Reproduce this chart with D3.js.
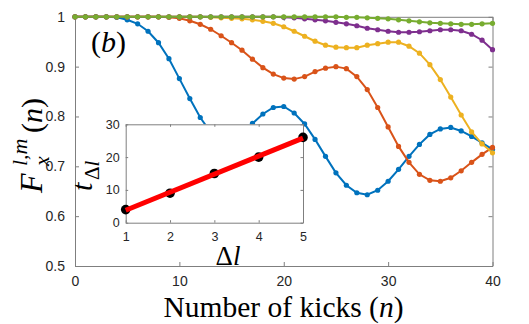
<!DOCTYPE html>
<html>
<head>
<meta charset="utf-8">
<script src="https://cdn.jsdelivr.net/npm/d3@7"></script>
<style>
  body { margin: 0; background: #fff; }
  svg { display: block; }
</style>
</head>
<body>
<div id="chart"></div>
<script>
// kicks n = 0..40
const kicks = d3.range(0, 41);

// fidelity curves
const seriesBlue = [1, 1, 1, 1, 0.999, 0.994, 0.986, 0.971, 0.948, 0.916, 0.876, 0.836, 0.798, 0.768, 0.748, 0.738, 0.758, 0.786, 0.805, 0.818, 0.82,
  0.807, 0.785, 0.754, 0.72, 0.687, 0.662, 0.647, 0.643, 0.652, 0.67, 0.694, 0.72, 0.744, 0.764, 0.775, 0.778, 0.771, 0.76, 0.747, 0.734];
const seriesOrange = [1, 1, 1, 1, 1, 1, 1, 1, 1, 0.999, 0.997, 0.992, 0.985, 0.975, 0.962, 0.948, 0.933, 0.915, 0.898, 0.885, 0.877,
  0.875, 0.88, 0.89, 0.897, 0.9, 0.896, 0.88, 0.854, 0.818, 0.779, 0.74, 0.708, 0.684, 0.672, 0.67, 0.677, 0.691, 0.708, 0.724, 0.738];
const seriesYellow = [1, 1, 1, 1, 1, 1, 1, 1, 1, 1, 1, 1, 1, 0.999, 0.998, 0.997, 0.996, 0.994, 0.991, 0.987, 0.98,
  0.971, 0.961, 0.951, 0.943, 0.939, 0.938, 0.938, 0.943, 0.946, 0.949, 0.949, 0.941, 0.927, 0.904, 0.874, 0.839, 0.803, 0.769, 0.745, 0.727];
const seriesPurple = [1, 1, 1, 1, 1, 1, 1, 1, 1, 1, 1, 1, 1, 1, 1, 1, 1, 1, 1, 1, 0.999,
  0.998, 0.996, 0.994, 0.992, 0.989, 0.986, 0.982, 0.977, 0.974, 0.971, 0.969, 0.969, 0.97, 0.972, 0.974, 0.974, 0.972, 0.965, 0.953, 0.934];
const seriesGreen = [1, 1, 1, 1, 1, 1, 1, 1, 1, 1, 1, 1, 1, 1, 1, 1, 1, 1, 1, 1, 1,
  1, 1, 1, 1, 1, 0.999, 0.999, 0.998, 0.997, 0.996, 0.994, 0.992, 0.99, 0.988, 0.987, 0.986, 0.985, 0.985, 0.986, 0.987];
const seriesColors = ['#0072BD', '#D95319', '#EDB120', '#7E2F8E', '#77AC30'];

const xTicks = [0, 10, 20, 30, 40];
const yTicks = [0.5, 0.6, 0.7, 0.8, 0.9, 1];

// inset: time t vs delta l
const deltaL = [1, 2, 3, 4, 5];
const tDelta = [4, 9, 15, 20, 26];
const fitX = [1, 5];
const fitY = [3.8, 25.8];
const insetXTicks = [1, 2, 3, 4, 5];
const insetYTicks = [0, 10, 20, 30];

const W = 529, H = 324;
const axisGrey = '#7f7f7f', labelGrey = '#262626';
const tickFont = 'Liberation Sans, Arial, sans-serif';
const serif = 'Liberation Serif, DejaVu Serif, Times New Roman, serif';

const svg = d3.select('#chart').append('svg')
  .attr('width', W).attr('height', H);

// MAIN AXES
const x = d3.scaleLinear().domain([0, 40]).range([75, 492.5]);
const y = d3.scaleLinear().domain([0.5, 1]).range([266, 16.8]);

function styleAxis(g, size) {
  g.select('.domain').attr('stroke', axisGrey).attr('stroke-width', 1);
  g.selectAll('.tick line').attr('stroke', axisGrey);
  g.selectAll('.tick text').attr('fill', labelGrey)
    .attr('font-family', tickFont).attr('font-size', size);
}

const fmtY = d => d === 1 ? '1' : d3.format('.1f')(d);
const fmtInt = d3.format('d');

svg.append('g').attr('transform', `translate(0,${y(0.5)})`)
  .call(d3.axisBottom(x).tickValues(xTicks).tickSizeInner(-4).tickSizeOuter(0).tickPadding(10).tickFormat(fmtInt))
  .call(g => styleAxis(g, 14));
svg.append('g').attr('transform', `translate(0,${y(1)})`)
  .call(d3.axisTop(x).tickValues(xTicks).tickSizeInner(-4).tickSizeOuter(0).tickFormat(''))
  .call(g => styleAxis(g, 14));
svg.append('g').attr('transform', `translate(${x(0)},0)`)
  .call(d3.axisLeft(y).tickValues(yTicks).tickSizeInner(-4).tickSizeOuter(0).tickPadding(10).tickFormat(fmtY))
  .call(g => styleAxis(g, 14));
svg.append('g').attr('transform', `translate(${x(40)},0)`)
  .call(d3.axisRight(y).tickValues(yTicks).tickSizeInner(-4).tickSizeOuter(0).tickFormat(''))
  .call(g => styleAxis(g, 14));

// CURVES
const allSeries = [seriesBlue, seriesOrange, seriesYellow, seriesPurple, seriesGreen];
const line = d3.line().x((d, i) => x(kicks[i])).y(d => y(d));

const curves = svg.append('g');
allSeries.forEach((s, k) => {
  const g = curves.append('g');
  g.append('path').datum(s)
    .attr('d', line)
    .attr('fill', 'none')
    .attr('stroke', seriesColors[k])
    .attr('stroke-width', 2);
  g.selectAll('circle').data(s).join('circle')
    .attr('cx', (d, i) => x(kicks[i]))
    .attr('cy', d => y(d))
    .attr('r', 2.6)
    .attr('fill', seriesColors[k]);
});

// panel label (b)
const bLbl = svg.append('text')
  .attr('x', 91).attr('y', 52)
  .attr('font-family', serif).attr('font-size', 30).attr('fill', '#000');
bLbl.append('tspan').text('(');
bLbl.append('tspan').attr('font-style', 'italic').text('b');
bLbl.append('tspan').text(')');

// x label
const xLbl = svg.append('text')
  .attr('x', 283.5).attr('y', 317).attr('text-anchor', 'middle')
  .attr('font-family', serif).attr('font-size', 29.5).attr('fill', '#000');
xLbl.append('tspan').text('Number of kicks (');
xLbl.append('tspan').attr('font-style', 'italic').text('n');
xLbl.append('tspan').text(')');

// y label F_x^{l,m}(n), rotated
const yLbl = svg.append('g')
  .attr('transform', 'translate(42,193) rotate(-90)')
  .attr('font-family', serif).attr('fill', '#000');
yLbl.append('text').attr('x', 0).attr('y', 0)
  .attr('font-size', 32).attr('font-style', 'italic').text('F');
yLbl.append('text').attr('x', 27).attr('y', -15)
  .attr('font-size', 22).attr('font-style', 'italic').text('l,m');
yLbl.append('text').attr('x', 27).attr('y', 7)
  .attr('font-size', 22).attr('font-style', 'italic').text('x');
const yParen = yLbl.append('text').attr('x', 60).attr('y', 0).attr('font-size', 30);
yParen.append('tspan').text('(');
yParen.append('tspan').attr('font-style', 'italic').text('n');
yParen.append('tspan').text(')');

// INSET
const ix = d3.scaleLinear().domain([1, 5]).range([125.7, 303]);
const iy = d3.scaleLinear().domain([0, 30]).range([222.7, 124.3]);

svg.append('rect')
  .attr('x', ix(1)).attr('y', iy(30))
  .attr('width', ix(5) - ix(1)).attr('height', iy(0) - iy(30))
  .attr('fill', '#fff');

svg.append('g').attr('transform', `translate(0,${iy(0)})`)
  .call(d3.axisBottom(ix).tickValues(insetXTicks).tickSizeInner(-2.5).tickSizeOuter(0).tickPadding(9).tickFormat(fmtInt))
  .call(g => styleAxis(g, 12.5));
svg.append('g').attr('transform', `translate(0,${iy(30)})`)
  .call(d3.axisTop(ix).tickValues(insetXTicks).tickSizeInner(-2.5).tickSizeOuter(0).tickFormat(''))
  .call(g => styleAxis(g, 12.5));
svg.append('g').attr('transform', `translate(${ix(1)},0)`)
  .call(d3.axisLeft(iy).tickValues(insetYTicks).tickSizeInner(-2.5).tickSizeOuter(0).tickPadding(6).tickFormat(fmtInt))
  .call(g => styleAxis(g, 12.5));
svg.append('g').attr('transform', `translate(${ix(5)},0)`)
  .call(d3.axisRight(iy).tickValues(insetYTicks).tickSizeInner(-2.5).tickSizeOuter(0).tickFormat(''))
  .call(g => styleAxis(g, 12.5));

svg.append('g').selectAll('circle').data(deltaL).join('circle')
  .attr('cx', d => ix(d))
  .attr('cy', (d, i) => iy(tDelta[i]))
  .attr('r', 4.8)
  .attr('fill', '#000');

svg.append('path')
  .datum(fitX)
  .attr('d', d3.line().x(d => ix(d)).y((d, i) => iy(fitY[i])))
  .attr('stroke', '#ff0000')
  .attr('stroke-width', 5)
  .attr('fill', 'none');

// inset x label
const ixLbl = svg.append('text')
  .attr('x', 228).attr('y', 265).attr('text-anchor', 'middle')
  .attr('font-family', serif).attr('font-size', 27).attr('fill', '#000');
ixLbl.append('tspan').text('Δ');
ixLbl.append('tspan').attr('font-style', 'italic').text('l');

// inset y label t_{Δl}
const iyLbl = svg.append('g')
  .attr('transform', 'translate(92,191) rotate(-90)')
  .attr('font-family', serif).attr('fill', '#000');
iyLbl.append('text').attr('x', 0).attr('y', 0)
  .attr('font-size', 30).attr('font-style', 'italic').text('t');
const iySub = iyLbl.append('text').attr('x', 11).attr('y', 7).attr('font-size', 21);
iySub.append('tspan').text('Δ');
iySub.append('tspan').attr('font-style', 'italic').text('l');
</script>
</body>
</html>
